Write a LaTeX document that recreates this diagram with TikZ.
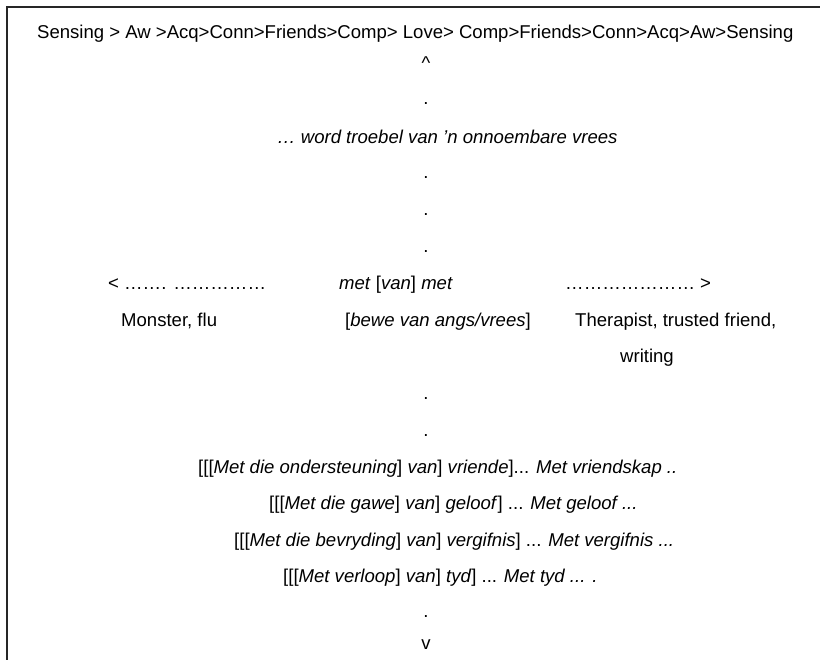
\documentclass[tikz,border=0pt]{standalone}
\usepackage{fontspec}
\setmainfont{Liberation Sans}
\begin{document}
\begin{tikzpicture}[x=1pt,y=-1pt,
  txt/.style={anchor=base west,inner sep=0pt,font=\fontsize{18.55}{20}\selectfont},
  ctr/.style={anchor=base,inner sep=0pt,font=\fontsize{18.55}{20}\selectfont},
  frame/.style={line width=1.2pt,draw=black!85}]
\useasboundingbox (0,0) rectangle (820,660);
\draw[frame] (7,660) -- (7,7) -- (820,7);
\node[txt] (title) at (37,39) {Sensing > Aw >Acq>Conn>Friends>Comp> Love> Comp>Friends>Conn>Acq>Aw>Sensing};
\node[ctr] (up) at (426,70) {\^{}};
\node[ctr] (d1) at (426,105) {.};
\node[txt] (troebel) at (277,144) {\textit{… word troebel van ’n onnoembare vrees}};
\node[ctr] (d2) at (426,179) {.};
\node[ctr] (d3) at (426,216) {.};
\node[ctr] (d4) at (426,253) {.};
\node[txt] (left) at (108,290) {< ……. ……………};
\node[txt] (met) at (339,290) {\textit{met} [\textit{van}] \textit{met}};
\node[txt] (right) at (565,290) {………………… >};
\node[txt] (monster) at (121,327) {Monster, flu};
\node[txt] (bewe) at (345,327) {[\textit{bewe van angs/vrees}]};
\node[txt] (therapist) at (575,327) {Therapist, trusted friend,};
\node[txt] (writing) at (620,363) {writing};
\node[ctr] (d5) at (426,400) {.};
\node[ctr] (d6) at (426,436) {.};
\node[txt] (l1) at (198,473) {[[[\textit{Met die ondersteuning}] \textit{van}] \textit{vriende}]... \textit{Met vriendskap ..}};
\node[txt] (l2) at (269,509) {[[[\textit{Met die gawe}] \textit{van}] \textit{geloof}] ... \textit{Met geloof ...}};
\node[txt] (l3) at (234,546) {[[[\textit{Met die bevryding}] \textit{van}] \textit{vergifnis}] ... \textit{Met vergifnis ...}};
\node[txt] (l4) at (283,582) {[[[\textit{Met verloop}] \textit{van}] \textit{tyd}] ... \textit{Met tyd ... .}};
\node[ctr] (d7) at (426,617) {.};
\node[ctr] (down) at (426,649) {v};
\end{tikzpicture}
\end{document}
